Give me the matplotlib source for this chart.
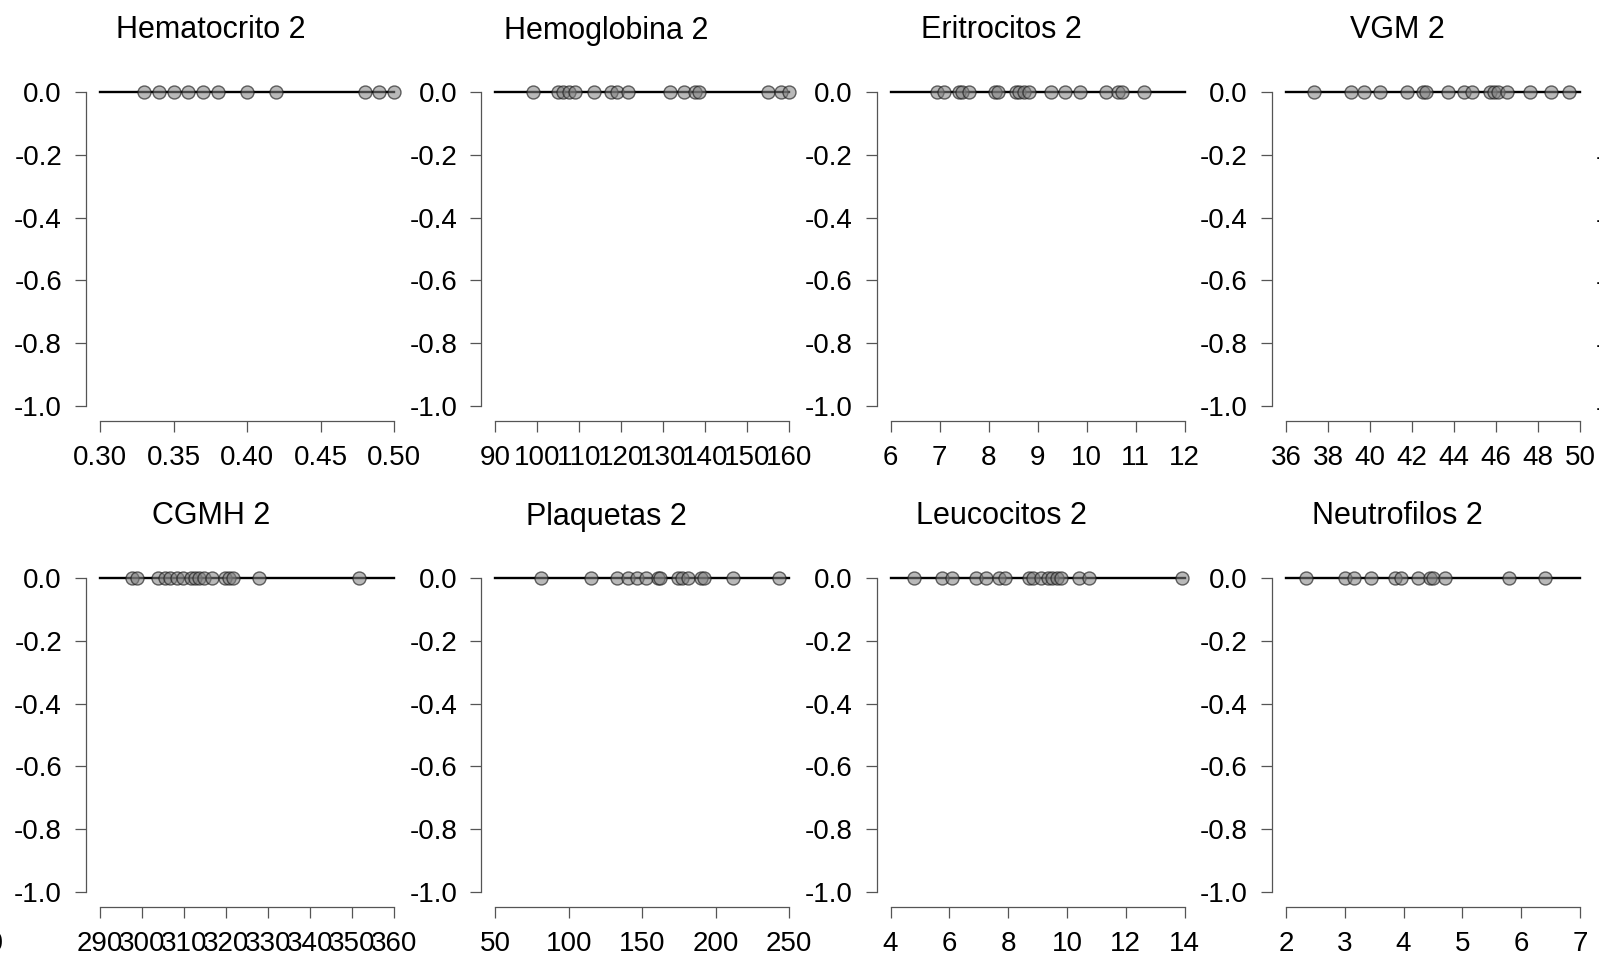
import matplotlib
matplotlib.use("Agg")
import matplotlib.pyplot as plt
import numpy as np

plt.rcParams["font.family"] = ["Liberation Sans", "DejaVu Sans"]
plt.rcParams["axes.unicode_minus"] = False

# ---- data -------------------------------------------------------------
titles = ["Hematocrito 2", "Hemoglobina 2", "Eritrocitos 2", "VGM 2",
          "CGMH 2", "Plaquetas 2", "Leucocitos 2", "Neutrofilos 2"]

hematocrito = [0.33, 0.34, 0.35, 0.36, 0.37, 0.38, 0.40, 0.42, 0.48, 0.49, 0.50]
hemoglobina = [99, 105, 106, 107.5, 109, 113.5, 117.5, 119, 121.5, 131.5, 135,
               137.5, 138.5, 155, 158, 160]
eritrocitos = [6.95, 7.1, 7.4, 7.45, 7.6, 8.14, 8.2, 8.55, 8.62, 8.72, 8.82,
               9.27, 9.56, 9.86, 10.4, 10.65, 10.72, 11.17]
vgm = [37.35, 39.1, 39.7, 40.5, 41.75, 42.55, 42.65, 43.7, 44.5, 44.85, 45.7,
       45.9, 46.1, 46.55, 47.6, 48.6, 49.5]
cgmh = [297.5, 298.7, 303.8, 305.4, 306.6, 308.3, 309.7, 311.7, 312.7, 313.6,
        314.8, 316.6, 319.8, 320.7, 321.7, 327.8, 351.6]
plaquetas = [81, 115, 132.5, 140.5, 146.5, 152.5, 160.5, 162, 174, 177, 181,
             190, 192, 212, 243]
leucocitos = [4.8, 5.75, 6.1, 6.9, 7.25, 7.7, 7.9, 8.7, 8.85, 9.1, 9.35, 9.5,
              9.65, 9.8, 10.4, 10.75, 13.9]
neutrofilos = [2.35, 3.0, 3.15, 3.45, 3.85, 3.95, 4.25, 4.45, 4.5, 4.7, 5.8, 6.4]

series = [hematocrito, hemoglobina, eritrocitos, vgm,
          cgmh, plaquetas, leucocitos, neutrofilos]

xticks = [
    [0.30, 0.35, 0.40, 0.45, 0.50],
    list(range(90, 161, 10)),
    list(range(6, 13)),
    list(range(36, 51, 2)),
    list(range(290, 361, 10)),
    list(range(50, 251, 50)),
    list(range(4, 15, 2)),
    list(range(2, 8)),
]
xfmt = ["%.2f", "%d", "%d", "%d", "%d", "%d", "%d", "%d"]
yticks = [0.0, -0.2, -0.4, -0.6, -0.8, -1.0]

# ---- layout (pixels) -------------------------------------------------
W, H = 1599, 958
DPI = 100
PX = 72.0 / DPI            # points per pixel
COL0, COLSTEP, XWIDTH = 100.0, 395.3, 294.0
ROW0, ROWSTEP, YUNIT = 92.0, 486.0, 314.0
XAXIS_GAP = 15.0           # px between y=-1 and the x axis line
YAXIS_GAP = 14.0           # px between x range start and the y axis line
YTOP = 0.04

fig = plt.figure(figsize=(W / DPI, H / DPI), dpi=DPI)


def make_axes(left, row, ticks, fmt, xlabels=True):
    zero_y = ROW0 + row * ROWSTEP
    top = zero_y - YTOP * YUNIT
    bottom = zero_y + YUNIT + XAXIS_GAP
    ax = fig.add_axes([left / W, 1 - bottom / H, XWIDTH / W, (bottom - top) / H])
    ax.set_xlim(ticks[0], ticks[-1])
    ax.set_ylim(-1 - XAXIS_GAP / YUNIT, YTOP)
    ax.patch.set_alpha(0)
    for s in ("top", "right"):
        ax.spines[s].set_visible(False)
    for s in ("left", "bottom"):
        ax.spines[s].set_color("#555555")
        ax.spines[s].set_linewidth(0.9)
    ax.spines["left"].set_position(("outward", YAXIS_GAP * PX))
    ax.spines["left"].set_bounds(-1, 0)
    ax.spines["bottom"].set_bounds(ticks[0], ticks[-1])
    ax.set_xticks(ticks)
    if xlabels:
        ax.set_xticklabels([fmt % t for t in ticks])
    else:
        ax.set_xticklabels([""] * len(ticks))
    ax.set_yticks(yticks)
    ax.set_yticklabels(["%.1f" % t for t in yticks])
    ax.tick_params(axis="both", direction="out", length=11 * PX, width=0.9,
                   color="#555555", labelsize=20, labelcolor="black")
    ax.tick_params(axis="x", pad=13 * PX)
    ax.tick_params(axis="y", pad=13 * PX)
    return ax


for i, (vals, ticks, fmt, title) in enumerate(zip(series, xticks, xfmt, titles)):
    col, row = i % 4, i // 4
    ax = make_axes(COL0 + col * COLSTEP, row, ticks, fmt)
    ax.axhline(0, color="black", lw=1.7, zorder=2, clip_on=False)
    ax.scatter(vals, np.zeros(len(vals)), s=(13 * PX) ** 2,
               facecolor=(0.5, 0.5, 0.5, 0.55), edgecolor=(0.1, 0.1, 0.1, 0.65),
               linewidth=1.0, zorder=3, clip_on=False)
    cx = COL0 + col * COLSTEP + XWIDTH / 2 - 36
    ty = 30.5 + row * ROWSTEP
    fig.text(cx / W, 1 - ty / H, title, ha="center", va="center", fontsize=22)

# neighbouring panels that fall mostly outside the canvas
make_axes(COL0 + 4 * COLSTEP, 0, xticks[0], xfmt[0], xlabels=False)
edge_ticks = [0, 10]
edge = make_axes(-12 - XWIDTH, 1, edge_ticks, "%d")
edge.spines["left"].set_visible(False)
edge.set_yticks([])
edge.set_xticklabels(["", "10"])

fig.savefig("out.png", dpi=DPI)
